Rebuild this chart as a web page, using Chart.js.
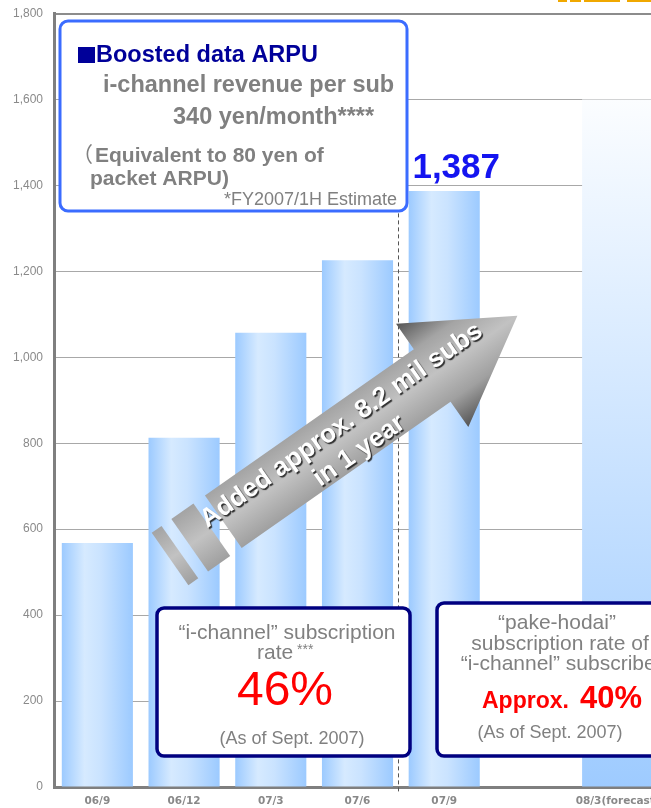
<!DOCTYPE html>
<html>
<head>
<meta charset="utf-8">
<script src="https://cdn.jsdelivr.net/npm/chart.js@4"></script>
<style>
  html, body { margin: 0; padding: 0; background: #fff; overflow: hidden; }
  #wrap { width: 651px; height: 808px; overflow: hidden; position: relative; }
  canvas { display: block; }
</style>
</head>
<body>
<div id="wrap"><canvas id="myChart" width="661" height="808"></canvas></div>
<script>
// data (subscribers, 10k)
const months = ['06/9', '06/12', '07/3', '07/6', '07/9', '', '08/3(forecast)'];
const subs = [568, 813, 1057, 1226, 1387, null, 1600];
const yTicks = [0, 200, 400, 600, 800, 1000, 1200, 1400, 1600, 1800];

const FONT = '"Liberation Sans", Arial, "Noto Sans CJK JP", sans-serif';
const GREY = '#808080';

function barColor(context) {
    const chart = context.chart;
    if (!chart.chartArea || !chart.scales.x) return '#b8dbff';
    const ctx = chart.ctx;
    const xs = chart.scales.x, ys = chart.scales.y;
    const i = context.dataIndex;
    if (i === months.length - 1) {
        // forecast bar fades upward
        const g = ctx.createLinearGradient(0, ys.getPixelForValue(subs[i]), 0, ys.getPixelForValue(0));
        g.addColorStop(0, '#fbfdff');
        g.addColorStop(1, '#9ecbff');
        return g;
    }
    const cx = xs.getPixelForValue(i);
    const w = xs.width / months.length * 0.82;
    const g = ctx.createLinearGradient(cx - w / 2, 0, cx + w / 2, 0);
    g.addColorStop(0, '#9ccaff');
    g.addColorStop(0.32, '#d6eaff');
    g.addColorStop(0.55, '#cae3ff');
    g.addColorStop(1, '#9ccaff');
    return g;
}

function box(ctx, x, y, w, h, r, color, lw) {
    ctx.beginPath();
    ctx.moveTo(x + r, y);
    ctx.arcTo(x + w, y, x + w, y + h, r);
    ctx.arcTo(x + w, y + h, x, y + h, r);
    ctx.arcTo(x, y + h, x, y, r);
    ctx.arcTo(x, y, x + w, y, r);
    ctx.closePath();
    ctx.fillStyle = '#fff';
    ctx.fill();
    ctx.lineWidth = lw;
    ctx.strokeStyle = color;
    ctx.stroke();
}

function text(ctx, str, x, y, font, color, align) {
    ctx.font = font;
    ctx.fillStyle = color;
    ctx.textAlign = align || 'left';
    ctx.textBaseline = 'alphabetic';
    ctx.fillText(str, x, y);
}

const extras = {
    id: 'extras',
    afterDatasetsDraw(chart) {
        const ctx = chart.ctx;
        const xs = chart.scales.x, ys = chart.scales.y;
        ctx.save();

        // dashed divider between 07/6 and 07/9
        const dx = Math.round(xs.getPixelForValue(3.5)) - 2.5;
        ctx.setLineDash([4, 3]);
        ctx.strokeStyle = '#555';
        ctx.lineWidth = 1;
        ctx.beginPath();
        ctx.moveTo(dx, ys.getPixelForValue(1400));
        ctx.lineTo(dx, ys.getPixelForValue(0) + 7);
        ctx.stroke();
        ctx.setLineDash([]);

        // ARPU box
        box(ctx, 60, 21, 347, 190, 8, '#3b6cff', 3);
        ctx.fillStyle = '#000099';
        ctx.fillRect(78, 47, 17, 16);
        text(ctx, 'Boosted data ARPU', 96, 62, 'bold 23.5px ' + FONT, '#000099');
        text(ctx, 'i-channel revenue per sub', 103, 92, 'bold 23.5px ' + FONT, GREY);
        text(ctx, '340 yen/month****', 173, 124, 'bold 23.5px ' + FONT, GREY);
        text(ctx, '（', 72, 162, '21px "Noto Sans CJK JP", sans-serif', GREY);
        text(ctx, 'Equivalent to 80 yen of', 95, 162, 'bold 21px ' + FONT, GREY);
        text(ctx, 'packet ARPU)', 90, 185, 'bold 21px ' + FONT, GREY);
        text(ctx, '*FY2007/1H Estimate', 397, 205, '18px ' + FONT, GREY, 'right');

        // growth arrow
        ctx.save();
        ctx.translate(223.3, 521.7);
        ctx.rotate(-35 * Math.PI / 180);
        const g = ctx.createLinearGradient(0, -63, 0, 63);
        g.addColorStop(0, '#555');
        g.addColorStop(0.25, '#a4a4a4');
        g.addColorStop(0.5, '#c2c2c2');
        g.addColorStop(0.75, '#a0a0a0');
        g.addColorStop(1, '#555');
        ctx.fillStyle = g;
        ctx.beginPath();
        ctx.moveTo(0, -32);
        ctx.lineTo(255, -32);
        ctx.lineTo(255, -63);
        ctx.lineTo(359, 0);
        ctx.lineTo(255, 63);
        ctx.lineTo(255, 32);
        ctx.lineTo(0, 32);
        ctx.closePath();
        ctx.fill();
        ctx.fillRect(-41, -32, 27, 64);
        ctx.fillRect(-65, -32, 12, 64);
        ctx.font = 'bold 26px ' + FONT;
        ctx.textAlign = 'center';
        ctx.textBaseline = 'middle';
        ctx.fillStyle = '#fff';
        ctx.shadowColor = 'rgba(30,30,30,0.9)';
        ctx.shadowOffsetX = 1.5;
        ctx.shadowOffsetY = 1.5;
        ctx.shadowBlur = 1;
        ctx.fillText('Added approx. 8.2 mil subs', 152, -11);
        ctx.fillText('in 1 year', 152, 20);
        ctx.restore();

        // value label on 07/9
        const bar = chart.getDatasetMeta(0).data[4];
        text(ctx, '1,387', bar.x + 12, bar.y - 13, 'bold 35px ' + FONT, '#1414f0', 'center');

        // i-channel subscription rate
        box(ctx, 157, 608, 253, 148, 7, '#000080', 3.5);
        text(ctx, '“i-channel” subscription', 287, 639, '21px ' + FONT, GREY, 'center');
        text(ctx, 'rate', 257, 659, '21px ' + FONT, GREY);
        text(ctx, '***', 297, 654, '14px ' + FONT, GREY);
        text(ctx, '46%', 285, 705, '48px ' + FONT, '#ff0000', 'center');
        text(ctx, '(As of Sept. 2007)', 292, 744, '18px ' + FONT, GREY, 'center');

        // pake-hodai rate
        box(ctx, 437, 603, 260, 153, 7, '#000080', 3.5);
        text(ctx, '“pake-hodai”', 557, 629, '21px ' + FONT, GREY, 'center');
        text(ctx, 'subscription rate of', 560, 650, '21px ' + FONT, GREY, 'center');
        text(ctx, '“i-channel” subscribers', 567, 670, '21px ' + FONT, GREY, 'center');
        text(ctx, 'Approx.', 482, 708, 'bold 23px ' + FONT, '#ff0000');
        text(ctx, '40%', 580, 708, 'bold 31px ' + FONT, '#ff0000');
        text(ctx, '(As of Sept. 2007)', 550, 738, '18px ' + FONT, GREY, 'center');

        // cut-off logo at top right
        ctx.fillStyle = '#f0a800';
        ctx.fillRect(558, 0, 9, 2);
        ctx.fillRect(570, 0, 11, 2);
        ctx.fillRect(584, 0, 36, 2);
        ctx.fillRect(627, 0, 24, 2);

        ctx.restore();
    }
};

new Chart(document.getElementById('myChart'), {
    type: 'bar',
    data: {
        labels: months,
        datasets: [{
            data: subs,
            backgroundColor: barColor,
            borderWidth: 0,
            categoryPercentage: 1,
            barPercentage: 0.82
        }]
    },
    options: {
        responsive: false,
        animation: false,
        layout: { padding: { top: 13.5, left: 0, right: 0, bottom: 0 } },
        plugins: { legend: { display: false }, tooltip: { enabled: false } },
        scales: {
            x: {
                grid: { display: false, drawTicks: false },
                border: { display: true, color: '#7f7f7f', width: 3 },
                ticks: {
                    color: '#888',
                    padding: 8,
                    maxRotation: 0,
                    minRotation: 0,
                    autoSkip: false,
                    font: { family: '"DejaVu Sans", sans-serif', size: 10.5, weight: 'bold' }
                },
                afterFit: s => { s.height = 21; s.paddingLeft = 0; s.paddingRight = 0; }
            },
            y: {
                min: 0,
                max: 1800,
                afterBuildTicks: s => { s.ticks = yTicks.map(v => ({ value: v })); },
                grid: {
                    drawTicks: false,
                    color: c => c.tick && c.tick.value === 1800 ? '#8c8c8c' : '#a8a8a8',
                    lineWidth: c => c.tick && c.tick.value === 1800 ? 2 : 1
                },
                border: { display: true, color: '#7f7f7f', width: 3 },
                ticks: {
                    color: '#8a8a8a',
                    padding: 11,
                    font: { family: FONT, size: 12 },
                    callback: v => v.toLocaleString('en-US')
                },
                afterFit: s => { s.width = 54; s.paddingTop = 0; s.paddingBottom = 0; }
            }
        }
    },
    plugins: [extras]
});
</script>
</body>
</html>
